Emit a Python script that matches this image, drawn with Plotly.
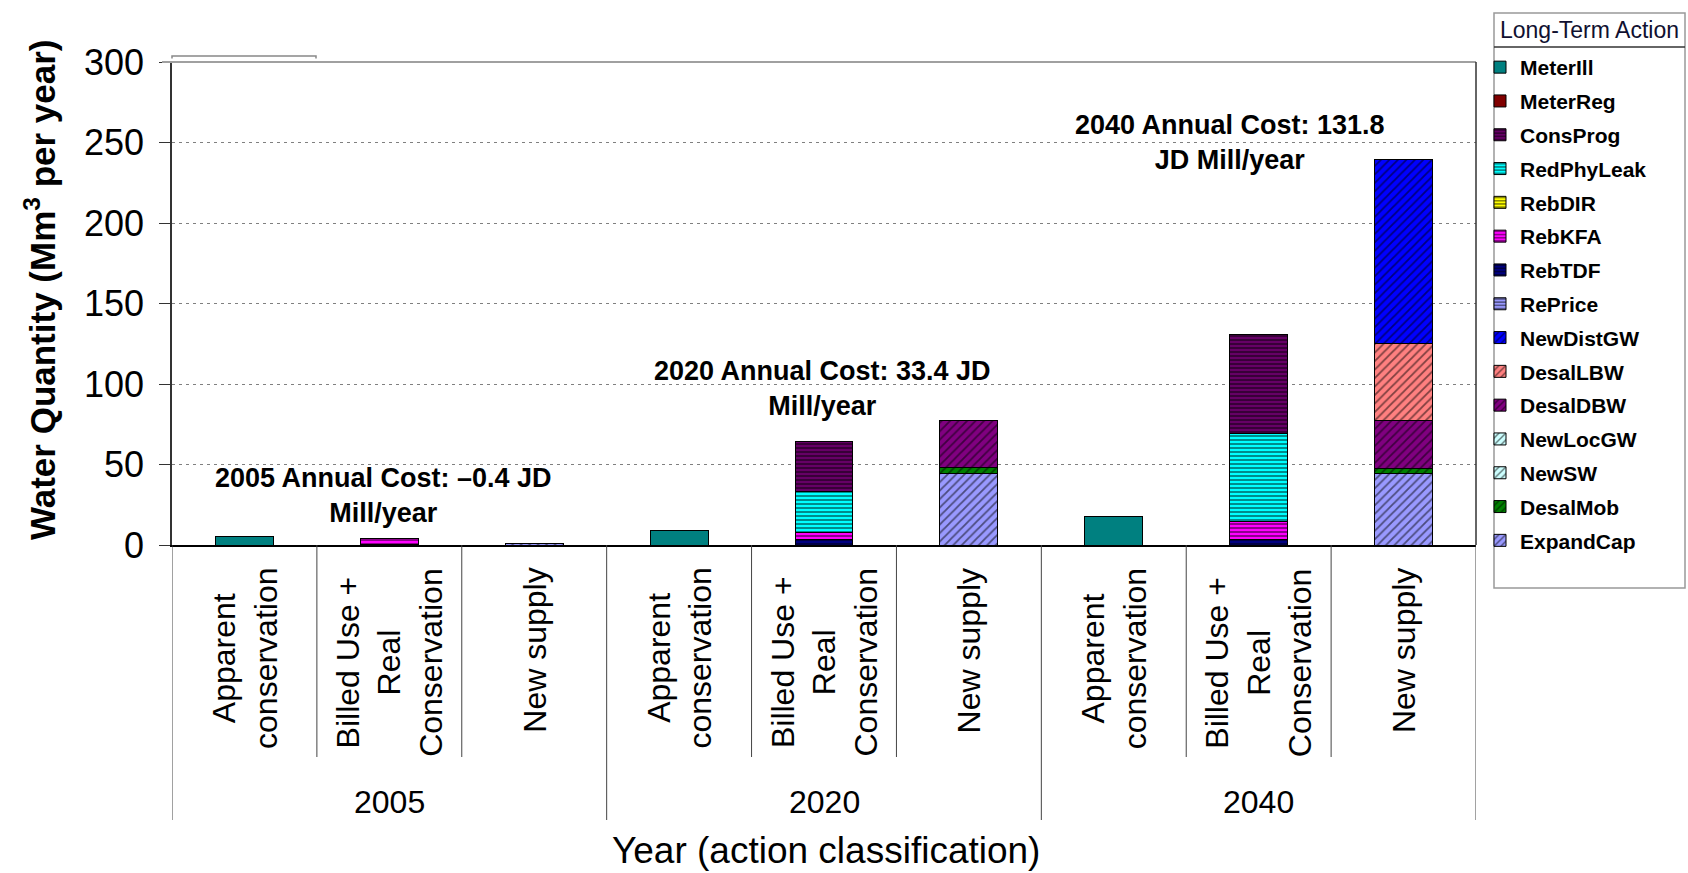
import plotly.graph_objects as go

# ---------------- data ----------------
groups = ["2005", "2020", "2040"]
inner_labels = ["Apparent<br>conservation", "Billed Use +<br>Real<br>Conservation", "New supply"]
categories = [f"{g} {k}" for g in groups for k in ["Apparent", "Billed", "Supply"]]

# series values per category (None = not present); order = stacking order (bottom first)
ExpandCap  = [None, None, 1.0,  None, None, 44.5, None, None, 44.3]
DesalMob   = [None, None, None, None, None, 3.5,  None, None, 3.5]
NewSW      = [None, None, None, None, None, None, None, None, None]
NewLocGW   = [None, None, None, None, None, None, None, None, None]
DesalDBW   = [None, None, None, None, None, 29.6, None, None, 29.6]
DesalLBW   = [None, None, None, None, None, None, None, None, 47.6]
NewDistGW  = [None, None, None, None, None, None, None, None, 114.4]
RePrice    = [None, None, None, None, None, None, None, None, None]
RebTDF     = [None, 0.6,  None, None, 3.7,  None, None, 3.5,  None]
RebKFA     = [None, 3.2,  None, None, 3.8,  None, None, 11.0, None]
RebDIR     = [None, None, None, None, None, None, None, None, None]
RedPhyLeak = [None, 0.4,  None, None, 26.0, None, None, 54.9, None]
ConsProg   = [None, None, None, None, 30.7, None, None, 61.6, None]
MeterReg   = [None, None, None, None, None, None, None, None, None]
MeterIll   = [5.5,  None, None, 9.0,  None, None, 17.5, None, None]

cost_notes = [
    "2005 Annual Cost: \u20130.4 JD<br>Mill/year",
    "2020 Annual Cost: 33.4 JD<br>Mill/year",
    "2040 Annual Cost: 131.8<br>JD Mill/year",
]

# legend order (top to bottom) is the reverse of the stacking order
series = [
    ("ExpandCap", ExpandCap, "#9999FF", "/"),
    ("DesalMob", DesalMob, "#008000", "/"),
    ("NewSW", NewSW, "#CCFFFF", "/"),
    ("NewLocGW", NewLocGW, "#CCFFFF", "/"),
    ("DesalDBW", DesalDBW, "#800080", "/"),
    ("DesalLBW", DesalLBW, "#FF8080", "/"),
    ("NewDistGW", NewDistGW, "#0000FF", "/"),
    ("RePrice", RePrice, "#9999FF", "-"),
    ("RebTDF", RebTDF, "#000080", "-"),
    ("RebKFA", RebKFA, "#FF00FF", "-"),
    ("RebDIR", RebDIR, "#FFFF00", "-"),
    ("RedPhyLeak", RedPhyLeak, "#00FFFF", "-"),
    ("ConsProg", ConsProg, "#660066", "-"),
    ("MeterReg", MeterReg, "#800000", ""),
    ("MeterIll", MeterIll, "#008080", ""),
]

FONT = "Arial, Liberation Sans, sans-serif"

# plot-area pixel frame (for placing texts/lines)
PX_L, PX_R, PX_T, PX_B = 172, 1476, 62, 545
W, H = 1688, 873


def px_x(px):
    return (px - PX_L) / (PX_R - PX_L)


def px_y(py):
    return (PX_B - py) / (PX_B - PX_T)


fig = go.Figure()
n = len(series)
for idx, (name, vals, color, shape) in enumerate(series):
    pat = dict(shape=shape, fgcolor="black", bgcolor=color,
               size=6 if shape == "/" else 4,
               solidity=0.3 if shape == "/" else 0.45) if shape else None
    marker = dict(color=color, line=dict(color="black", width=1))
    if pat:
        marker["pattern"] = pat
    fig.add_trace(go.Bar(name=name, x=categories, y=vals, marker=marker,
                         legendgroup=name, legendrank=n - idx,
                         hoverinfo="x+y+name"))

annotations = []
# inner category labels (rotated)
for i, cat in enumerate(categories):
    annotations.append(dict(
        x=cat, xref="x", y=px_y(566), yref="paper", text=inner_labels[i % 3],
        textangle=-90, showarrow=False, xanchor="center", yanchor="top",
        align="center", font=dict(family=FONT, size=32, color="black")))
# group labels
for gi, g in enumerate(groups):
    annotations.append(dict(
        x=categories[gi * 3 + 1], xref="x", y=px_y(802), yref="paper", text=g,
        showarrow=False, xanchor="center", yanchor="middle",
        font=dict(family=FONT, size=32, color="black")))
# cost notes
note_pos = [(383, 495), (822, 388), (1230, 142)]
for (nx, ny), txt in zip(note_pos, cost_notes):
    annotations.append(dict(
        x=px_x(nx), xref="paper", y=px_y(ny), yref="paper", text=txt,
        showarrow=False, xanchor="center", yanchor="middle", align="center",
        font=dict(family=FONT, size=27, color="black", weight="bold")))
# axis titles
annotations.append(dict(
    x=px_x(826), xref="paper", y=px_y(850), yref="paper",
    text="Year (action classification)", showarrow=False,
    xanchor="center", yanchor="middle",
    font=dict(family=FONT, size=37, color="black")))
annotations.append(dict(
    x=px_x(40), xref="paper", y=px_y(290), yref="paper",
    text="Water Quantity (Mm<sup>3</sup> per year)", textangle=-90,
    showarrow=False, xanchor="center", yanchor="middle",
    font=dict(family=FONT, size=35, color="black", weight="bold")))
# legend title
annotations.append(dict(
    x=px_x(1589), xref="paper", y=px_y(30), yref="paper",
    text="Long-Term Action", showarrow=False, xanchor="center", yanchor="middle",
    font=dict(family=FONT, size=23, color="#101030")))

shapes = []
# inner dividers
for b in [0.5, 1.5, 3.5, 4.5, 6.5, 7.5]:
    shapes.append(dict(type="line", xref="x", yref="paper", x0=b, x1=b,
                       y0=0, y1=px_y(757), line=dict(color="#444", width=1)))
# group dividers
for b in [-0.5, 2.5, 5.5, 8.5]:
    shapes.append(dict(type="line", xref="x", yref="paper", x0=b, x1=b,
                       y0=0, y1=px_y(820), line=dict(color="#444", width=1)))
# top border (gray) and right border (dark)
shapes.append(dict(type="line", xref="paper", yref="paper", x0=px_x(162), x1=1,
                   y0=1, y1=1, line=dict(color="#a0a0a0", width=2)))
shapes.append(dict(type="line", xref="paper", yref="paper", x0=1, x1=1,
                   y0=0, y1=1, line=dict(color="#333", width=1.5)))
# small bracket at top left
shapes.append(dict(type="path", xref="paper", yref="paper",
                   path=f"M {px_x(172)},{px_y(58.5)} L {px_x(172)},{px_y(56)} "
                        f"L {px_x(316)},{px_y(56)} L {px_x(316)},{px_y(58.5)}",
                   line=dict(color="#888", width=1.5)))
# legend frame and title separator
shapes.append(dict(type="rect", xref="paper", yref="paper",
                   x0=px_x(1494), x1=px_x(1685), y0=px_y(588), y1=px_y(13),
                   line=dict(color="#999", width=1.5), fillcolor="rgba(0,0,0,0)"))
shapes.append(dict(type="line", xref="paper", yref="paper",
                   x0=px_x(1494), x1=px_x(1685), y0=px_y(47), y1=px_y(47),
                   line=dict(color="#333", width=1.5)))

fig.update_layout(
    width=W, height=H, autosize=False,
    margin=dict(l=PX_L, r=W - PX_R, t=PX_T, b=H - PX_B, pad=0),
    paper_bgcolor="white", plot_bgcolor="white",
    barmode="stack", bargap=0.6,
    font=dict(family=FONT, color="black"),
    xaxis=dict(type="category", range=[-0.5, 8.5], showticklabels=False,
               ticks="", showline=True, linecolor="black", linewidth=1.5,
               showgrid=False, zeroline=False, fixedrange=True),
    yaxis=dict(range=[0, 300], dtick=50, showline=True, linecolor="#333",
               linewidth=1.5, ticks="outside", ticklen=11, tickcolor="#333",
               ticklabelstandoff=8,
               tickfont=dict(family=FONT, size=36, color="black"),
               showgrid=True, gridcolor="#808080", gridwidth=1,
               griddash="3px,4px", zeroline=False, fixedrange=True),
    legend=dict(
        xref="paper", yref="paper", x=px_x(1480), y=px_y(47),
        xanchor="left", yanchor="top", traceorder="grouped",
        tracegroupgap=3.5, bgcolor="rgba(0,0,0,0)", borderwidth=0,
        maxheight=800,
        font=dict(family=FONT, size=21, color="black", weight="bold"),
    ),
    annotations=annotations,
    shapes=shapes,
)

fig.write_html(
    "out.html",
    config={"responsive": False, "displayModeBar": False},
    post_script=("document.body.style.margin='0px';"
                 "document.body.style.overflow='hidden';"
                 "document.documentElement.style.overflow='hidden';"),
)
